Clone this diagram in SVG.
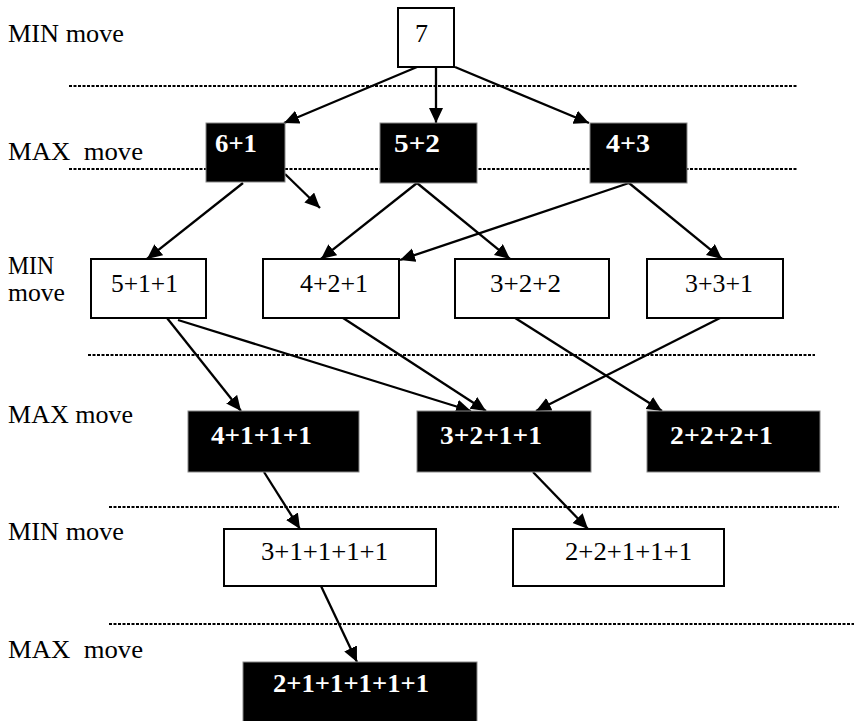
<svg xmlns="http://www.w3.org/2000/svg" width="854" height="721" viewBox="0 0 854 721" font-family="Liberation Serif, DejaVu Serif, serif">
<style>
text{font-family:'Liberation Serif','DejaVu Serif',serif;font-size:25px;white-space:pre}
.lbl{fill:#000}
.wt{fill:#000}
.bt{fill:#fff;font-weight:bold}
.wb{fill:#fff;stroke:#000;stroke-width:2}
.bb{fill:#000;stroke:#888;stroke-width:1}
.dot{stroke:#000;stroke-width:2.2;stroke-dasharray:3 1.5;fill:none}
.arr{stroke:#000;stroke-width:2.3;fill:none;marker-end:url(#ah)}
</style>
<defs>
<marker id="ah" markerUnits="userSpaceOnUse" markerWidth="16" markerHeight="16" refX="15" refY="7" orient="auto">
<path d="M0,0 L15,7 L0,14 z" fill="#000"/>
</marker>
</defs>
<rect width="854" height="721" fill="#fff"/>
<g id="levels">
<text class="lbl" x="8" y="42" textLength="116" lengthAdjust="spacingAndGlyphs">MIN move</text>
<text class="lbl" x="8" y="160" textLength="135" lengthAdjust="spacingAndGlyphs">MAX  move</text>
<text class="lbl" x="8" y="274" textLength="46" lengthAdjust="spacingAndGlyphs">MIN</text>
<text class="lbl" x="8" y="301" textLength="57" lengthAdjust="spacingAndGlyphs">move</text>
<text class="lbl" x="8" y="423" textLength="125" lengthAdjust="spacingAndGlyphs">MAX move</text>
<text class="lbl" x="8" y="540" textLength="116" lengthAdjust="spacingAndGlyphs">MIN move</text>
<text class="lbl" x="8" y="658" textLength="135" lengthAdjust="spacingAndGlyphs">MAX  move</text>
<line class="dot" x1="69" y1="86" x2="798" y2="86"/>
<line class="dot" x1="69" y1="169" x2="798" y2="169"/>
<line class="dot" x1="88" y1="355" x2="815" y2="355"/>
<line class="dot" x1="109" y1="507" x2="839" y2="507"/>
<line class="dot" x1="109" y1="624" x2="854" y2="624"/>
</g>
<g id="connectors">
<line class="arr" x1="417" y1="67" x2="284" y2="123"/>
<line class="arr" x1="436" y1="67" x2="436" y2="123"/>
<line class="arr" x1="455" y1="67" x2="589" y2="123"/>
<line class="arr" x1="243" y1="183" x2="147" y2="259"/>
<line class="arr" x1="285" y1="174" x2="320" y2="208"/>
<line class="arr" x1="417" y1="183" x2="321" y2="259"/>
<line class="arr" x1="417" y1="183" x2="510" y2="259"/>
<line class="arr" x1="629" y1="183" x2="400" y2="260"/>
<line class="arr" x1="629" y1="183" x2="722" y2="259"/>
<line class="arr" x1="167" y1="318" x2="241" y2="411"/>
<line class="arr" x1="178" y1="320" x2="471" y2="411"/>
<line class="arr" x1="340" y1="316" x2="486" y2="411"/>
<line class="arr" x1="512" y1="316" x2="662" y2="411"/>
<line class="arr" x1="724" y1="316" x2="536" y2="411"/>
<line class="arr" x1="264" y1="472" x2="300" y2="529"/>
<line class="arr" x1="533" y1="472" x2="588" y2="529"/>
<line class="arr" x1="321" y1="586" x2="357" y2="662"/>
</g>
<g id="n7"><rect class="wb" x="398" y="8" width="56" height="59"/><text class="wt" x="415" y="42" textLength="13" lengthAdjust="spacingAndGlyphs">7</text></g>
<g id="n61"><rect class="bb" x="206" y="123" width="79" height="59"/><text class="bt" x="215" y="152" textLength="42" lengthAdjust="spacingAndGlyphs">6+1</text></g>
<g id="n52"><rect class="bb" x="380" y="123" width="97" height="60"/><text class="bt" x="394" y="152" textLength="46" lengthAdjust="spacingAndGlyphs">5+2</text></g>
<g id="n43"><rect class="bb" x="590" y="123" width="97" height="60"/><text class="bt" x="606" y="152" textLength="44" lengthAdjust="spacingAndGlyphs">4+3</text></g>
<g id="n511"><rect class="wb" x="91" y="259" width="115" height="59"/><text class="wt" x="111" y="292" textLength="67" lengthAdjust="spacingAndGlyphs">5+1+1</text></g>
<g id="n421"><rect class="wb" x="263" y="259" width="136" height="59"/><text class="wt" x="300" y="292" textLength="68" lengthAdjust="spacingAndGlyphs">4+2+1</text></g>
<g id="n322"><rect class="wb" x="455" y="259" width="154" height="59"/><text class="wt" x="490" y="292" textLength="71" lengthAdjust="spacingAndGlyphs">3+2+2</text></g>
<g id="n331"><rect class="wb" x="647" y="259" width="136" height="59"/><text class="wt" x="685" y="292" textLength="68" lengthAdjust="spacingAndGlyphs">3+3+1</text></g>
<g id="n4111"><rect class="bb" x="188" y="411" width="171" height="61"/><text class="bt" x="211" y="444" textLength="101" lengthAdjust="spacingAndGlyphs">4+1+1+1</text></g>
<g id="n3211"><rect class="bb" x="417" y="411" width="174" height="61"/><text class="bt" x="440" y="444" textLength="102" lengthAdjust="spacingAndGlyphs">3+2+1+1</text></g>
<g id="n2221"><rect class="bb" x="647" y="411" width="173" height="61"/><text class="bt" x="670" y="444" textLength="103" lengthAdjust="spacingAndGlyphs">2+2+2+1</text></g>
<g id="n31111"><rect class="wb" x="224" y="529" width="212" height="57"/><text class="wt" x="261" y="560" textLength="127" lengthAdjust="spacingAndGlyphs">3+1+1+1+1</text></g>
<g id="n22111"><rect class="wb" x="513" y="529" width="211" height="57"/><text class="wt" x="565" y="560" textLength="127" lengthAdjust="spacingAndGlyphs">2+2+1+1+1</text></g>
<g id="n211111"><rect class="bb" x="243" y="662" width="234" height="60"/><text class="bt" x="273" y="692" textLength="156" lengthAdjust="spacingAndGlyphs">2+1+1+1+1+1</text></g>
</svg>
